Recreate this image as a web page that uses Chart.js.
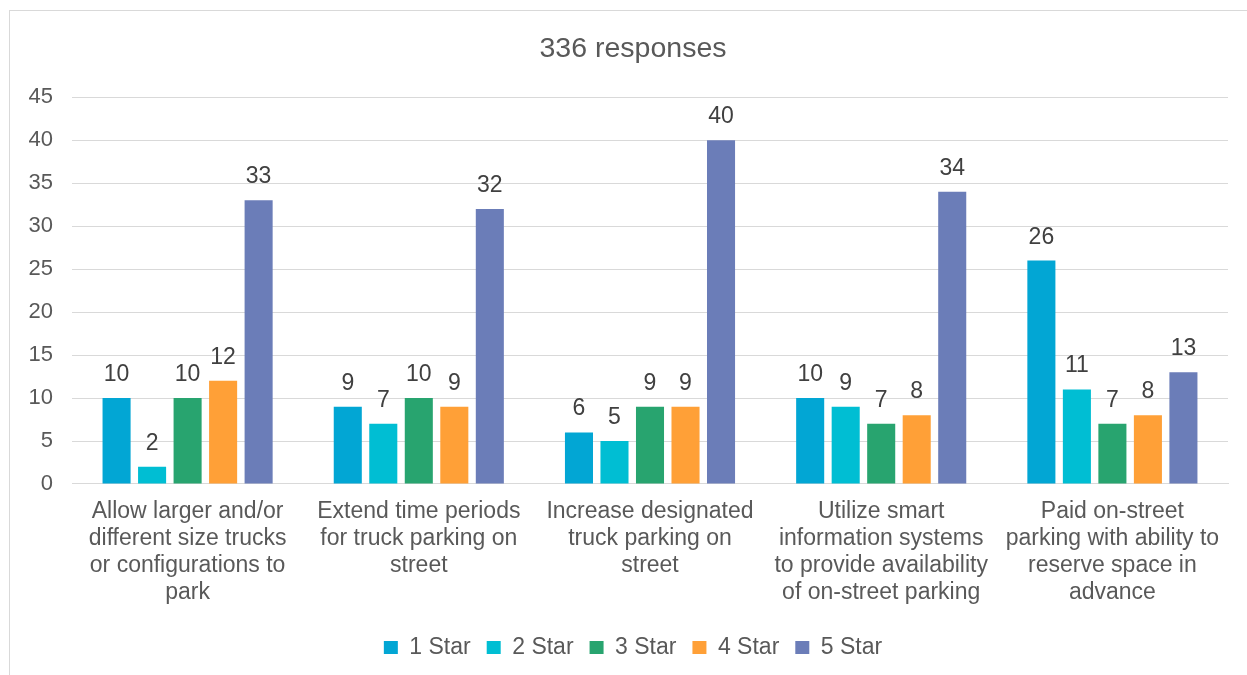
<!DOCTYPE html>
<html>
<head>
<meta charset="utf-8">
<script src="https://cdn.jsdelivr.net/npm/chart.js@4"></script>
<style>
  html, body { margin: 0; padding: 0; background: #fff; overflow: hidden; }
  #wrap { position: relative; width: 1247px; height: 675px; overflow: hidden; }
  #frame { position: absolute; left: 9px; top: 10px; right: -2px; bottom: -2px; border: 1px solid #d9d9d9; }
  canvas { position: absolute; left: 0; top: 0; }
</style>
</head>
<body>
<div id="wrap">
  <div id="frame"></div>
  <canvas id="ratingChart" width="1260" height="675"></canvas>
</div>
<script>
// categories (x axis)
const categories = [
  ['Allow larger and/or', 'different size trucks', 'or configurations to', 'park'],
  ['Extend time periods', 'for truck parking on', 'street'],
  ['Increase designated', 'truck parking on', 'street'],
  ['Utilize smart', 'information systems', 'to provide availability', 'of on-street parking'],
  ['Paid on-street', 'parking with ability to', 'reserve space in', 'advance']
];

// series values
const oneStar = [10, 9, 6, 10, 26];
const twoStar = [2, 7, 5, 9, 11];
const threeStar = [10, 10, 9, 7, 7];
const fourStar = [12, 9, 9, 8, 8];
const fiveStar = [33, 32, 40, 34, 13];

const seriesNames = ['1 Star', '2 Star', '3 Star', '4 Star', '5 Star'];
const colors = ['#02a6d4', '#00bed3', '#28a46f', '#ffa037', '#6b7db8'];

const fontFamily = '"Liberation Sans", Arial, sans-serif';

// draws the value above each bar
const valueLabels = {
  id: 'valueLabels',
  afterDatasetsDraw(chart) {
    const ctx = chart.ctx;
    ctx.save();
    ctx.font = '23px ' + fontFamily;
    ctx.fillStyle = '#404040';
    ctx.textAlign = 'center';
    ctx.textBaseline = 'alphabetic';
    chart.data.datasets.forEach((ds, i) => {
      chart.getDatasetMeta(i).data.forEach((bar, j) => {
        ctx.fillText(ds.data[j], bar.x, bar.y - 17);
      });
    });
    ctx.restore();
  }
};

const ctx = document.getElementById('ratingChart').getContext('2d');

new Chart(ctx, {
  type: 'bar',
  data: {
    labels: categories,
    datasets: [oneStar, twoStar, threeStar, fourStar, fiveStar].map((d, i) => ({
      label: seriesNames[i],
      data: d,
      backgroundColor: colors[i],
      categoryPercentage: 0.768,
      barPercentage: 0.79
    }))
  },
  options: {
    responsive: false,
    animation: false,
    layout: {
      padding: { left: 12, right: 6, top: 20, bottom: 6 }
    },
    scales: {
      x: {
        grid: { display: false, drawTicks: false },
        border: { color: '#d9d9d9' },
        ticks: {
          color: '#595959',
          padding: 14,
          maxRotation: 0,
          autoSkip: false,
          font: { family: fontFamily, size: 23, lineHeight: 1.174 }
        }
      },
      y: {
        min: 0,
        max: 45,
        afterFit(scale) { scale.width = 60; },
        grid: { color: '#d9d9d9', drawTicks: false },
        border: { display: false },
        ticks: {
          stepSize: 5,
          color: '#595959',
          padding: 19,
          font: { family: fontFamily, size: 22 }
        }
      },
      // empty right-hand spacer so the title and legend centre like the original
      yRight: {
        position: 'right',
        min: 0,
        max: 45,
        afterFit(scale) { scale.width = 26; },
        grid: { display: false, drawTicks: false },
        border: { display: false },
        ticks: { display: false }
      }
    },
    plugins: {
      title: {
        display: true,
        text: '336 responses',
        color: '#595959',
        padding: { top: 12, bottom: 31 },
        font: { family: fontFamily, size: 28.5, weight: 'normal' }
      },
      legend: {
        position: 'bottom',
        labels: {
          color: '#595959',
          boxWidth: 14,
          boxHeight: 13,
          padding: 16,
          font: { family: fontFamily, size: 23 }
        }
      },
      tooltip: { enabled: false }
    }
  },
  plugins: [valueLabels]
});
</script>
</body>
</html>
